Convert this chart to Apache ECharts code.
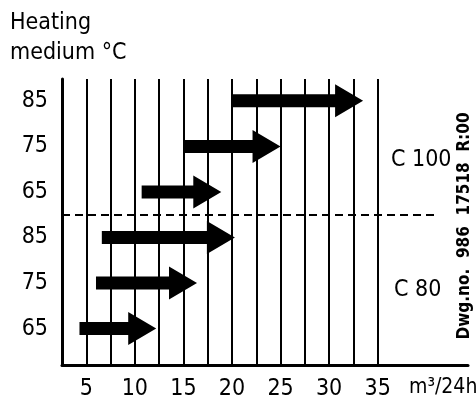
<!DOCTYPE html>
<html>
<head>
<meta charset="utf-8">
<script src="https://cdn.jsdelivr.net/npm/echarts@6/dist/echarts.min.js"></script>
<style>
  html, body { margin: 0; padding: 0; background: #fff; }
  #chart { width: 476px; height: 406px; }
</style>
</head>
<body>
<div id="chart"></div>
<script>
// heating medium temperature per row, bottom to top (C 80 rows, then C 100 rows)
const levels = ['65', '75', '85', '65', '75', '85']
// flow range m3/24h, arrow tail and arrow tip
const flowFrom = [4.3, 6.0, 6.6, 10.7, 15, 20]
const flowTo = [12.2, 16.4, 20.3, 18.9, 25, 33.5]
// x tick labels and vertical grid lines
const xTicks = [5, 10, 15, 20, 25, 30, 35]
const gridX = [5, 7.5, 10, 12.5, 15, 17.5, 20, 22.5, 25, 27.5, 30, 32.5, 35]
// divider between the two unit groups
const groupDivider = 2.5
const groupNames = ['C 80', 'C 100']

const font = "'Liberation Sans Narrow', 'DejaVu Sans Condensed', sans-serif"
const chart = echarts.init(document.getElementById('chart'))

const arrowData = levels.map((l, i) => [flowFrom[i], flowTo[i], i])

function renderArrow(params, api) {
  const s = api.coord([api.value(0), api.value(2)])
  const e = api.coord([api.value(1), api.value(2)])
  const y = s[1]
  const shaft = 6.5
  const head = 16.5
  const len = 28
  const hx = e[0] - len
  return {
    type: 'polygon',
    shape: {
      points: [
        [s[0], y - shaft], [hx, y - shaft], [hx, y - head], [e[0], y],
        [hx, y + head], [hx, y + shaft], [s[0], y + shaft]
      ]
    },
    style: { fill: '#000' }
  }
}

const option = {
  animation: false,
  backgroundColor: '#fff',
  grid: {
    left: 62,
    right: 8,
    top: 79,
    bottom: 41
  },
  xAxis: {
    type: 'value',
    min: 2.5,
    max: 44.3,
    axisLine: { onZero: false, lineStyle: { color: '#000', width: 3 } },
    axisTick: { show: false },
    splitLine: { show: false },
    axisLabel: {
      customValues: xTicks,
      margin: 13,
      color: '#000',
      fontFamily: font,
      fontSize: 23
    }
  },
  yAxis: {
    type: 'value',
    min: -0.8,
    max: 5.48,
    axisLine: { show: true, onZero: false, lineStyle: { color: '#000', width: 3 } },
    axisTick: { show: false },
    splitLine: { show: false },
    axisLabel: {
      customValues: [0, 1, 2, 3, 4, 5],
      formatter: v => levels[Math.round(v)],
      margin: 14,
      color: '#000',
      fontFamily: font,
      fontSize: 23
    }
  },
  series: [
    {
      type: 'custom',
      renderItem: renderArrow,
      data: arrowData,
      encode: { x: [0, 1], y: 2 },
      markLine: {
        silent: true,
        symbol: 'none',
        label: { show: false },
        lineStyle: { color: '#000', width: 2, type: 'solid' },
        data: gridX.map(x => ({ xAxis: x })).concat([
          [
            { coord: [2.5, groupDivider], lineStyle: { type: [8, 5], width: 2 } },
            { coord: [40.9, groupDivider] }
          ]
        ])
      }
    }
  ],
  graphic: [
    {
      type: 'text',
      left: 10,
      top: 8,
      style: {
        text: 'Heating\nmedium °C',
        font: '23px ' + font,
        lineHeight: 30,
        fill: '#000'
      }
    },
    {
      type: 'text',
      left: 391,
      top: 149,
      style: { text: groupNames[1], font: '23px ' + font, fill: '#000' }
    },
    {
      type: 'text',
      left: 394,
      top: 279,
      style: { text: groupNames[0], font: '23px ' + font, fill: '#000' }
    },
    {
      type: 'text',
      x: 465,
      y: 226,
      rotation: Math.PI / 2,
      style: {
        text: 'Dwg.no.  986  17518  R:00',
        font: 'bold 17px ' + font,
        fill: '#000',
        align: 'center',
        verticalAlign: 'middle'
      }
    },
    {
      type: 'text',
      left: 409,
      top: 377,
      style: {
        text: 'm³/24h',
        font: '21px ' + font,
        fill: '#000'
      }
    }
  ]
}

chart.setOption(option)
</script>
</body>
</html>
